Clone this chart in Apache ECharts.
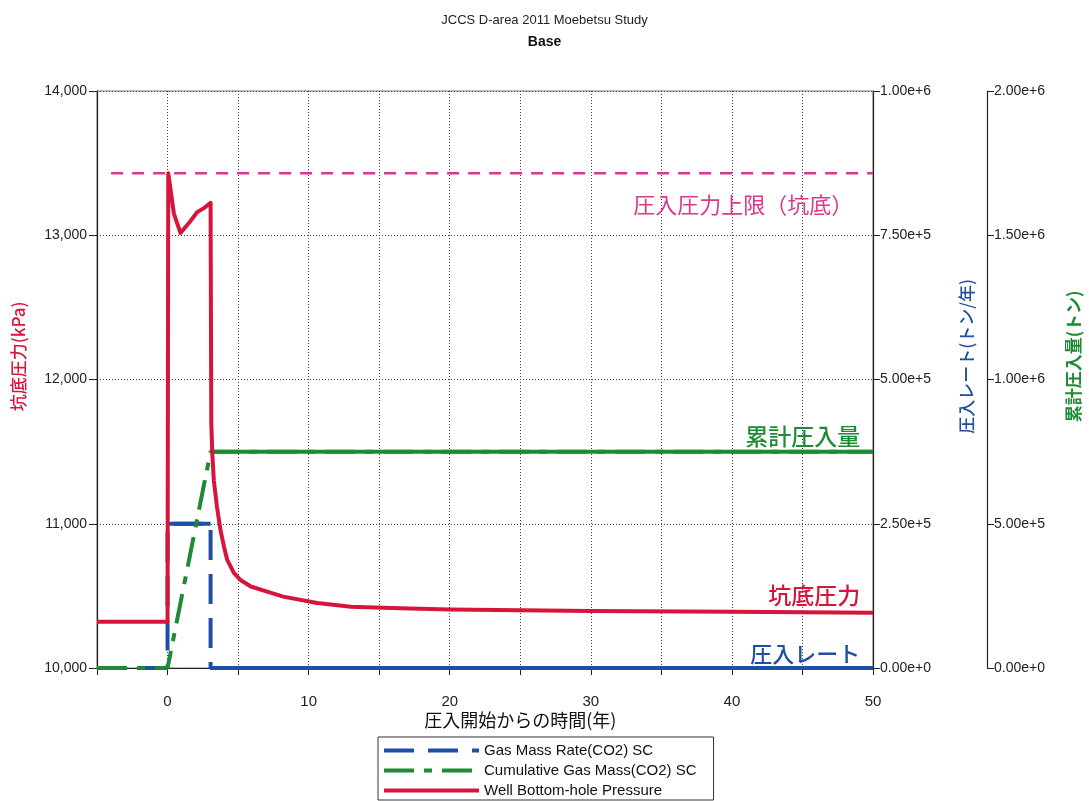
<!DOCTYPE html>
<html>
<head>
<meta charset="utf-8">
<script src="https://cdn.jsdelivr.net/npm/echarts@6/dist/echarts.min.js"></script>
<style>
html,body{margin:0;padding:0;background:#fff;}
#chart{width:1089px;height:801px;}
</style>
</head>
<body>
<div id="chart"></div>
<script>
// ---- data ----
const chartTitle = 'JCCS D-area 2011 Moebetsu Study';
const chartSubtitle = 'Base';
const xAxisName = '圧入開始からの時間(年)';
const pressureAxisName = '坑底圧力(kPa)';
const rateAxisName = '圧入レート(トン/年)';
const cumAxisName = '累計圧入量(トン)';
const seriesNames = ['Gas Mass Rate(CO2) SC', 'Cumulative Gas Mass(CO2) SC', 'Well Bottom-hole Pressure'];
const annotationTexts = ['圧入圧力上限（坑底）', '累計圧入量', '坑底圧力', '圧入レート'];

const pressureTime = [-5, 0, 0.05, 0.45, 0.92, 1.6, 2.1, 2.6, 3.05, 3.1, 3.17, 3.28, 3.5, 3.75, 4.0, 4.23, 4.7, 5.17, 5.9, 7.06, 8.2, 10.6, 13, 16.5, 20, 30, 40, 50];
const pressureVal  = [10320, 10320, 13430, 13150, 13015, 13095, 13160, 13190, 13225, 11700, 11490, 11300, 11120, 10957, 10841, 10749, 10660, 10610, 10565, 10529, 10495, 10450, 10425, 10414, 10405, 10395, 10390, 10383];

const rateTime = [-5, 0, 0, 3.05, 3.05, 50];
const rateVal  = [0, 0, 250000, 250000, 0, 0];

const cumTime = [-5, 0, 3.05, 50];
const cumVal  = [0, 0, 750000, 750000];

const limitTime = [-4, 50];
const limitVal  = [13430, 13430];

// ---- styles ----
const RED = '#d7153a', BLUE = '#1e4fa3', GREEN = '#1f8a35', MAGENTA = '#d8398e';
const FONT = '"Liberation Sans", Arial, sans-serif';
const JFONT = '"Noto Sans CJK JP", sans-serif';

const zip = (a, b) => a.map((v, i) => [v, b[i]]);

// flat segments after start are drawn solid over the dashed line
function solidSegments(t, v, yAxisIndex, color, width, z) {
  const out = [];
  for (let i = 0; i < t.length - 1; i++) {
    if (t[i] >= 0 && v[i] === v[i + 1] && t[i + 1] > t[i]) {
      out.push({
        type: 'line', yAxisIndex, silent: true, symbol: 'none', z,
        data: [[t[i], v[i]], [t[i + 1], v[i + 1]]],
        lineStyle: { color, width, type: 'solid' }
      });
    }
  }
  return out;
}

const chart = echarts.init(document.getElementById('chart'), null, { renderer: 'canvas' });

const gridSplit = { show: true, lineStyle: { color: '#444', type: [1, 2], width: 1 } };

const option = {
  animation: false,
  backgroundColor: '#fff',
  title: {
    text: chartTitle, subtext: chartSubtitle, left: 'center', top: 9, itemGap: 8,
    textStyle: { fontFamily: FONT, fontSize: 13, fontWeight: 'normal', color: '#222' },
    subtextStyle: { fontFamily: FONT, fontSize: 14, fontWeight: 'bold', color: '#111' }
  },
  grid: { left: 97, right: 216, top: 91, bottom: 133, show: true, borderColor: '#777', borderWidth: 1 },
  legend: {
    data: seriesNames, orient: 'vertical', left: 378, top: 737, height: 60,
    itemWidth: 95, itemHeight: 14, itemGap: 5,
    itemStyle: { opacity: 0 },
    lineStyle: { width: 4 },
    padding: [6, 17, 2, 4], borderColor: '#333', borderWidth: 1,
    textStyle: { fontFamily: FONT, fontSize: 15, color: '#111' }, selectedMode: false
  },
  xAxis: {
    type: 'value', min: -5, max: 50, interval: 5,
    axisLine: { show: true, onZero: false, lineStyle: { color: '#222', width: 1 } },
    axisTick: { show: true, length: 7, lineStyle: { color: '#222' } },
    axisLabel: { margin: 26, fontFamily: FONT, fontSize: 15, color: '#222',
      formatter: v => (v % 10 === 0 ? String(v) : '') },
    splitLine: gridSplit
  },
  yAxis: [
    {
      type: 'value', min: 10000, max: 14000, interval: 1000, position: 'left',
      axisLine: { show: true, onZero: false, lineStyle: { color: '#222', width: 1.2 } },
      axisTick: { show: true, length: 8, lineStyle: { color: '#222' } },
      axisLabel: { margin: 10, fontFamily: FONT, fontSize: 14, color: '#222',
        formatter: v => v.toLocaleString('en-US') },
      splitLine: gridSplit
    },
    {
      type: 'value', min: 0, max: 1000000, interval: 250000, position: 'right', offset: 0,
      axisLine: { show: true, onZero: false, lineStyle: { color: '#222', width: 1.2 } },
      axisTick: { show: true, length: 7, lineStyle: { color: '#222' } },
      axisLabel: { margin: 7, fontFamily: FONT, fontSize: 14, color: '#222',
        formatter: v => v.toExponential(2) },
      splitLine: { show: false }
    },
    {
      type: 'value', min: 0, max: 2000000, interval: 500000, position: 'right', offset: 114,
      axisLine: { show: true, onZero: false, lineStyle: { color: '#222', width: 1.2 } },
      axisTick: { show: true, length: 7, lineStyle: { color: '#222' } },
      axisLabel: { margin: 7, fontFamily: FONT, fontSize: 14, color: '#222',
        formatter: v => v.toExponential(2) },
      splitLine: { show: false }
    }
  ],
  series: [
    {
      name: seriesNames[0], type: 'line', yAxisIndex: 1, symbol: 'none', z: 3,
      data: zip(rateTime, rateVal),
      lineStyle: { color: BLUE, width: 4, type: [30, 14] }, itemStyle: { color: BLUE }
    },
    ...solidSegments(rateTime, rateVal, 1, BLUE, 4, 3),
    {
      name: seriesNames[1], type: 'line', yAxisIndex: 2, symbol: 'none', z: 4,
      data: zip(cumTime, cumVal),
      lineStyle: { color: GREEN, width: 4, type: [30, 10, 8, 10] }, itemStyle: { color: GREEN }
    },
    ...solidSegments(cumTime, cumVal, 2, GREEN, 4, 4),
    {
      name: seriesNames[2], type: 'line', yAxisIndex: 0, symbol: 'none', z: 5,
      data: zip(pressureTime, pressureVal),
      lineStyle: { color: RED, width: 4, type: 'solid', join: 'round' }, itemStyle: { color: RED }
    },
    {
      name: 'limit', type: 'line', yAxisIndex: 0, symbol: 'none', z: 2, silent: true,
      data: zip(limitTime, limitVal),
      lineStyle: { color: MAGENTA, width: 2.5, type: [12, 9] }
    }
  ]
};
chart.setOption(option);

// annotation labels placed in data coordinates
function px(x, y) {
  return chart.convertToPixel({ xAxisIndex: 0, yAxisIndex: 0 }, [x, y]);
}
const aLimit = px(48.6, 13210);
const aCum = px(49.1, 11608);
const aPres = px(49.1, 10506);
const aRate = px(49.1, 10097);
const pAx = px(-5, 12160);
const xNamePos = px(25, 10000);
const rightTop = px(50, 12160);

function txt(x, y, text, fill, font, align, rot) {
  const g = { type: 'text', x, y, style: { text, fill, font, align: align || 'center', verticalAlign: 'middle', textAlign: align || 'center', textVerticalAlign: 'middle' } };
  if (rot) g.rotation = rot;
  return g;
}

const graphics = [
  txt(aLimit[0], aLimit[1], annotationTexts[0], MAGENTA, '22px ' + JFONT, 'right'),
  txt(aCum[0], aCum[1], annotationTexts[1], GREEN, '500 23px ' + JFONT, 'right'),
  txt(aPres[0], aPres[1], annotationTexts[2], RED, '500 23px ' + JFONT, 'right'),
  txt(aRate[0], aRate[1], annotationTexts[3], BLUE, '500 22px ' + JFONT, 'right'),
  txt(19, pAx[1], pressureAxisName, RED, '500 17px ' + JFONT, 'center', Math.PI / 2),
  txt(rightTop[0] + 94, rightTop[1], rateAxisName, BLUE, '500 17px ' + JFONT, 'center', Math.PI / 2),
  txt(rightTop[0] + 201, rightTop[1], cumAxisName, GREEN, 'bold 17px ' + JFONT, 'center', Math.PI / 2),
  txt(xNamePos[0], xNamePos[1] + 52, xAxisName, '#111', '18px ' + JFONT, 'center')
];
chart.setOption({ graphic: graphics });
</script>
</body>
</html>
